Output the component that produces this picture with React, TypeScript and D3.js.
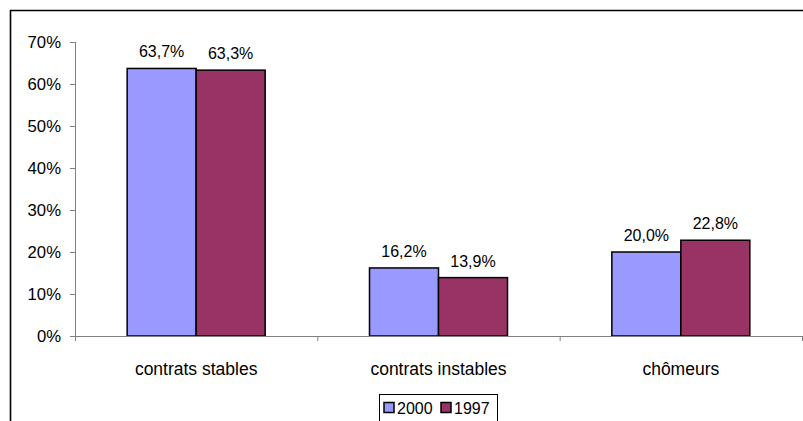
import React from "react";
import * as d3 from "d3";

const categories = ["contrats stables", "contrats instables", "chômeurs"];
const seriesNames = ["2000", "1997"];
const values2000 = [63.7, 16.2, 20.0];
const values1997 = [63.3, 13.9, 22.8];
const yTicks = [0, 10, 20, 30, 40, 50, 60, 70];
const colors = ["#9999FF", "#993366"];

const W = 803;
const H = 421;
const FONT = "'Liberation Sans', Arial, sans-serif";

export default function App() {
  const x0 = 75, x1 = 802, y0 = 336, y1 = 42;
  const x = d3.scaleBand<string>().domain(categories).range([x0, x1]);
  const y = d3.scaleLinear().domain([0, 70]).range([y0, y1]);
  const inner = d3.scaleBand<string>().domain(seriesNames).range([0, 138]);
  const series = [values2000, values1997];
  const fmt = (v: number) => v.toFixed(1).replace(".", ",") + "%";

  return (
    <svg width={W} height={H} style={{ position: "absolute", left: 0, top: 0, background: "#fff" }} fontFamily={FONT}>
      <rect x={0} y={0} width={W} height={H} fill="#fff" />
      {/* frame */}
      <line x1={10} y1={10.5} x2={W} y2={10.5} stroke="#000" strokeWidth={1.6} />
      <line x1={10.5} y1={10} x2={10.5} y2={H} stroke="#000" strokeWidth={1.6} />
      {/* y axis */}
      <line x1={x0 + 0.5} y1={y1} x2={x0 + 0.5} y2={y0} stroke="#808080" strokeWidth={1} />
      {yTicks.map((t) => (
        <g key={t}>
          <line x1={x0 - 5} x2={x0} y1={y(t) + 0.5} y2={y(t) + 0.5} stroke="#808080" />
          <text x={61} y={y(t)} dy="0.35em" textAnchor="end" fontSize={16.7} fill="#000">
            {t}%
          </text>
        </g>
      ))}
      {/* bars */}
      {categories.map((c, i) => {
        const gx = (x(c) as number) + x.bandwidth() / 2 - 69;
        return (
          <g key={c}>
            {series.map((s, j) => {
              const bx = gx + (inner(seriesNames[j]) as number);
              return (
                <g key={j}>
                  <rect
                    x={bx}
                    y={y(s[i])}
                    width={inner.bandwidth()}
                    height={y0 - y(s[i])}
                    fill={colors[j]}
                    stroke="#000"
                    strokeWidth={1.5}
                  />
                  <text x={bx + inner.bandwidth() / 2} y={y(s[i]) - 11} textAnchor="middle" fontSize={16} fill="#000">
                    {fmt(s[i])}
                  </text>
                </g>
              );
            })}
          </g>
        );
      })}
      {/* x axis */}
      <line x1={x0} y1={y0 + 0.5} x2={x1} y2={y0 + 0.5} stroke="#808080" />
      {[0, 1, 2, 3].map((k) => {
        const tx = x0 + k * x.bandwidth();
        return <line key={k} x1={tx + 0.5} x2={tx + 0.5} y1={y0} y2={y0 + 5} stroke="#808080" />;
      })}
      {categories.map((c) => (
        <text key={c} x={(x(c) as number) + x.bandwidth() / 2} y={375} textAnchor="middle" fontSize={17.5} fill="#000">
          {c}
        </text>
      ))}
      {/* legend */}
      <rect x={379.5} y={394.5} width={118} height={40} fill="#fff" stroke="#000" strokeWidth={1} />
      {seriesNames.map((n, j) => {
        const lx = 384 + j * 57;
        return (
          <g key={n}>
            <rect x={lx} y={402.5} width={10} height={10} fill={colors[j]} stroke="#000" strokeWidth={1.5} />
            <text x={lx + 13} y={414} fontSize={16} fill="#000">
              {n}
            </text>
          </g>
        );
      })}
    </svg>
  );
}
